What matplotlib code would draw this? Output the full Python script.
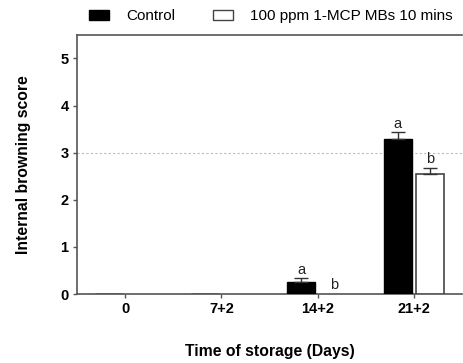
import numpy as np
import matplotlib.pyplot as plt
from matplotlib.patches import Patch

plt.rcParams['font.family'] = ['Liberation Sans', 'DejaVu Sans']

days = ['0', '7+2', '14+2', '21+2']
control = [0, 0, 0.25, 3.28]
control_err = [0, 0, 0.08, 0.15]
mcp = [0, 0, 0, 2.54]
mcp_err = [0, 0, 0, 0.13]
control_letters = ['', '', 'a', 'a']
mcp_letters = ['', '', 'b', 'b']

fig = plt.figure(figsize=(4.63, 3.63), dpi=100)
ax = fig.add_axes([0.166, 0.19, 0.832, 0.714])

x = np.arange(len(days))
w = 0.29
off = 0.17
edge = '#555555'

ax.bar(x - off, control, w, color='black', edgecolor='black', lw=1, zorder=3)
mcp_bars = ax.bar(x + off, mcp, w, color='white', edgecolor='#444444', lw=1.2, zorder=3)
for b, v in zip(mcp_bars, mcp):
    if v == 0:
        b.set_visible(False)
for i in range(len(days)):
    if control_err[i] > 0:
        ax.errorbar(x[i] - off, control[i], yerr=[[0], [control_err[i]]], fmt='none',
                    ecolor='#333333', capsize=5, elinewidth=1, capthick=1, zorder=4)
    if mcp_err[i] > 0:
        ax.errorbar(x[i] + off, mcp[i], yerr=[[0], [mcp_err[i]]], fmt='none',
                    ecolor='#333333', capsize=5, elinewidth=1, capthick=1, zorder=4)
    if control_letters[i]:
        ax.text(x[i] - off, control[i] + control_err[i] + 0.04, control_letters[i],
                ha='center', va='bottom', fontsize=10.5, color='#222222')
    if mcp_letters[i]:
        ax.text(x[i] + off, mcp[i] + mcp_err[i] + 0.04, mcp_letters[i],
                ha='center', va='bottom', fontsize=10.5, color='#222222')

ax.axhline(3, color='#bbbbbb', ls=(0, (2, 2)), lw=0.8, zorder=1)

ax.set_xlim(-0.5, 3.5)
ax.set_ylim(0, 5.5)
ax.set_yticks([0, 1, 2, 3, 4, 5])
ax.set_xticks(x)
ax.set_xticklabels(days)
ax.tick_params(direction='out', length=3, width=1, color=edge, pad=3, labelsize=10.5)
for lab in ax.get_xticklabels() + ax.get_yticklabels():
    lab.set_fontweight('bold')
ax.spines['right'].set_visible(False)
for s in ['left', 'bottom', 'top']:
    ax.spines[s].set_color(edge)
    ax.spines[s].set_linewidth(1.2)

ax.set_ylabel('Internal browning score', fontsize=11.3, fontweight='bold', labelpad=21)
ax.set_xlabel('Time of storage (Days)', fontsize=11.3, fontweight='bold', labelpad=20)

handles = [Patch(facecolor='black', edgecolor='black'),
           Patch(facecolor='white', edgecolor='#444444')]
fig.legend(handles, ['Control', '100 ppm 1-MCP MBs 10 mins'], loc='center',
           bbox_to_anchor=(0.585, 0.955), ncol=2, frameon=False, fontsize=11,
           handlelength=1.3, handleheight=0.7, handletextpad=1.1, columnspacing=2.5)

fig.savefig('out.png', dpi=100)
